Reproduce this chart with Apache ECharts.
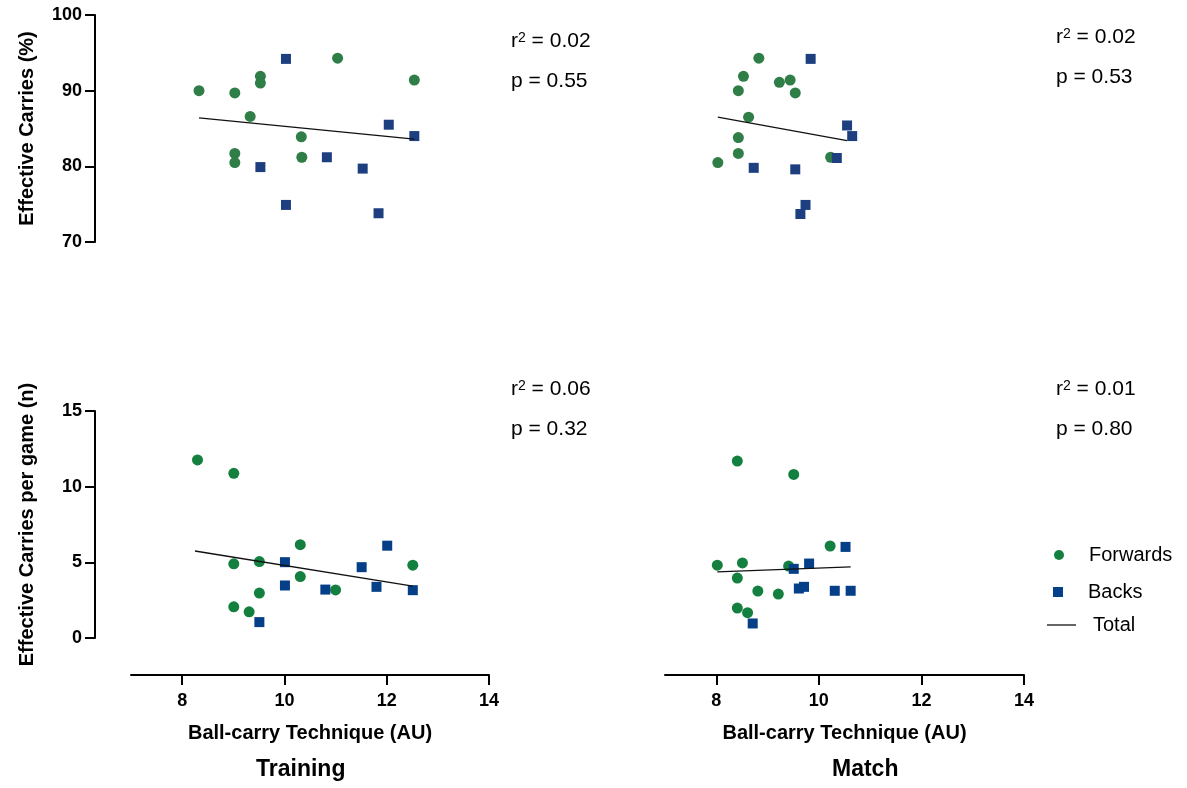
<!DOCTYPE html>
<html>
<head>
<meta charset="utf-8">
<title>Ball-carry Technique vs Effective Carries</title>
<script src="https://cdn.jsdelivr.net/npm/echarts@6/dist/echarts.min.js"></script>
<style>
	html, body { margin: 0; padding: 0; background: #fff; }
	#chart { width: 1187px; height: 788px; }
</style>
</head>
<body>
<div id="chart"></div>
<script>
	//------------------ data -------------
	// [ball-carry technique (AU), value]
	var trainFwdPct = [[8.33, 90.0], [9.03, 89.7], [9.53, 91.9], [9.53, 91.0], [9.33, 86.6], [10.33, 83.9],
		[10.34, 81.2], [9.03, 81.7], [9.03, 80.5], [11.04, 94.3], [12.54, 91.4]];
	var trainBackPct = [[10.03, 94.2], [9.53, 79.9], [10.03, 74.9], [10.83, 81.2], [11.53, 79.7],
		[11.84, 73.8], [12.04, 85.5], [12.54, 84.0]];
	var trainTotalPct = [[8.33, 86.4], [12.54, 83.6]];

	var matchFwdPct = [[8.83, 94.3], [8.53, 91.9], [8.43, 90.0], [9.23, 91.1], [9.44, 91.4], [9.54, 89.7],
		[8.63, 86.5], [8.43, 83.8], [8.43, 81.7], [8.03, 80.5], [10.23, 81.2]];
	var matchBackPct = [[9.84, 94.2], [8.73, 79.8], [9.54, 79.6], [9.74, 74.9], [9.64, 73.7],
		[10.35, 81.1], [10.55, 85.4], [10.65, 84.0]];
	var matchTotalPct = [[8.03, 86.5], [10.55, 83.4]];

	var trainFwdN = [[8.30, 11.77], [9.01, 10.88], [9.01, 4.90], [9.51, 5.05], [10.31, 6.17], [10.31, 4.06],
		[9.51, 2.97], [9.01, 2.06], [9.31, 1.73], [11.0, 3.18], [12.51, 4.81]];
	var trainBackN = [[10.01, 5.01], [10.01, 3.47], [9.51, 1.05], [10.80, 3.20], [11.51, 4.68],
		[12.01, 6.10], [11.80, 3.38], [12.51, 3.16]];
	var trainTotalN = [[8.25, 5.75], [12.51, 3.43]];

	var matchFwdN = [[8.41, 11.69], [9.51, 10.81], [10.22, 6.08], [8.02, 4.81], [8.51, 4.96], [9.41, 4.75],
		[8.41, 3.96], [8.81, 3.10], [9.21, 2.90], [8.41, 1.98], [8.61, 1.67]];
	var matchBackN = [[9.51, 4.57], [9.81, 4.92], [10.52, 6.02], [9.61, 3.27], [9.71, 3.38],
		[10.31, 3.12], [10.62, 3.12], [8.71, 0.96]];
	var matchTotalN = [[8.02, 4.37], [10.62, 4.70]];

	// stats text per panel
	var statR2 = ['0.02', '0.02', '0.06', '0.01'];
	var statP = ['0.55', '0.53', '0.32', '0.80'];

	var xRange = [7, 14];
	var xTickValues = [8, 10, 12, 14];
	var pctTicks = [70, 100, 10];   // min, max, interval
	var nTicks = [0, 15, 5];

	//------------------ styles -------------
	var FONT = '"Liberation Sans", Arial, sans-serif';
	var greenTop = '#2f7d47', greenBottom = '#13803f';
	var blueTop = '#1d3f80', blueBottom = '#043f87';

	var myChart = echarts.init(document.getElementById('chart'));

	function xAxis(gridIndex, show){
		return {
			gridIndex: gridIndex,
			type: 'value',
			min: xRange[0], max: xRange[1],
			show: show,
			offset: 37,
			splitLine: {show: false},
			axisLine: {show: true, onZero: false, lineStyle: {color: '#000', width: 2}},
			axisTick: {show: true, length: 10, customValues: xTickValues, lineStyle: {color: '#000', width: 2}},
			axisLabel: {
				margin: 17, color: '#000', fontSize: 18, fontWeight: 'bold', fontFamily: FONT,
				customValues: xTickValues
			},
			name: 'Ball-carry Technique (AU)',
			nameLocation: 'middle',
			nameGap: 48,
			nameTextStyle: {color: '#000', fontSize: 20, fontWeight: 'bold', fontFamily: FONT}
		};
	}

	function yAxis(gridIndex, ticks, name, show){
		return {
			gridIndex: gridIndex,
			type: 'value',
			min: ticks[0], max: ticks[1], interval: ticks[2],
			show: show,
			offset: 36,
			splitLine: {show: false},
			axisLine: {show: true, onZero: false, lineStyle: {color: '#000', width: 2}},
			axisTick: {show: true, length: 10, lineStyle: {color: '#000', width: 2}},
			axisLabel: {margin: 13, color: '#000', fontSize: 18, fontWeight: 'bold', fontFamily: FONT},
			name: name,
			nameLocation: 'middle',
			nameGap: 58,
			nameTextStyle: {color: '#000', fontSize: 20, fontWeight: 'bold', fontFamily: FONT}
		};
	}

	function scatter(name, idx, data, symbol, size, color){
		return {
			name: name, type: 'scatter',
			xAxisIndex: idx, yAxisIndex: idx,
			data: data, symbol: symbol, symbolSize: size,
			itemStyle: {color: color, opacity: 1},
			emphasis: {disabled: true},
			z: symbol == 'rect' ? 3 : 2
		};
	}

	function total(idx, data){
		return {
			name: 'Total', type: 'line',
			xAxisIndex: idx, yAxisIndex: idx,
			data: data, symbol: 'none',
			lineStyle: {color: '#111', width: 1.3},
			itemStyle: {color: '#111'},
			emphasis: {disabled: true},
			z: 4
		};
	}

	// r2 / p labels
	function statText(left, top, i){
		return [{
			type: 'text', left: left, top: top,
			style: {
				text: '{a|r}{s|2}{a| = ' + statR2[i] + '}',
				rich: {
					a: {fontSize: 21, fontFamily: FONT, fill: '#000'},
					s: {fontSize: 14, fontFamily: FONT, fill: '#000', verticalAlign: 'top', padding: [0, 0, 6, 0]}
				}
			}
		}, {
			type: 'text', left: left, top: top + 40,
			style: {text: 'p = ' + statP[i], fontSize: 21, fontFamily: FONT, fill: '#000'}
		}];
	}

	function caption(left, text){
		return {type: 'text', left: left, top: 758,
			style: {text: text, fontSize: 23, fontWeight: 'bold', fontFamily: FONT, fill: '#000'}};
	}

	function legendItem(left, top, name, icon, w, h, color, gap){
		return {
			left: left, top: top, padding: 0, selectedMode: false,
			itemWidth: w, itemHeight: h,
			data: [{name: name, icon: icon, itemStyle: {color: color}}],
			textStyle: {color: '#000', fontSize: 20, fontFamily: FONT, padding: [0, 0, 0, gap]}
		};
	}

	var option = {
		animation: false,
		backgroundColor: '#fff',
		grid: [
			{left: 131, top: 15, width: 358, height: 227},
			{left: 665, top: 15, width: 359, height: 227},
			{left: 131, top: 411, width: 358, height: 227},
			{left: 665, top: 411, width: 359, height: 227}
		],
		xAxis: [xAxis(0, false), xAxis(1, false), xAxis(2, true), xAxis(3, true)],
		yAxis: [
			yAxis(0, pctTicks, 'Effective Carries (%)', true),
			yAxis(1, pctTicks, '', false),
			yAxis(2, nTicks, 'Effective Carries per game (n)', true),
			yAxis(3, nTicks, '', false)
		],
		legend: [
			legendItem(1054, 545, 'Forwards', 'circle', 10, 10, greenBottom, 20),
			legendItem(1053, 582, 'Backs', 'rect', 10, 10, blueBottom, 20),
			legendItem(1047, 615, 'Total', 'rect', 29, 2, '#666', 12)
		],
		graphic: [].concat(
			statText(511, 31, 0),
			statText(1056, 27, 1),
			statText(511, 379, 2),
			statText(1056, 379, 3),
			[caption(256, 'Training'), caption(832, 'Match')]
		),
		series: [
			scatter('Forwards', 0, trainFwdPct, 'circle', 11, greenTop),
			scatter('Backs', 0, trainBackPct, 'rect', 10, blueTop),
			total(0, trainTotalPct),
			scatter('Forwards', 1, matchFwdPct, 'circle', 11, greenTop),
			scatter('Backs', 1, matchBackPct, 'rect', 10, blueTop),
			total(1, matchTotalPct),
			scatter('Forwards', 2, trainFwdN, 'circle', 11, greenBottom),
			scatter('Backs', 2, trainBackN, 'rect', 10, blueBottom),
			total(2, trainTotalN),
			scatter('Forwards', 3, matchFwdN, 'circle', 11, greenBottom),
			scatter('Backs', 3, matchBackN, 'rect', 10, blueBottom),
			total(3, matchTotalN)
		]
	};

	myChart.setOption(option);
</script>
</body>
</html>
